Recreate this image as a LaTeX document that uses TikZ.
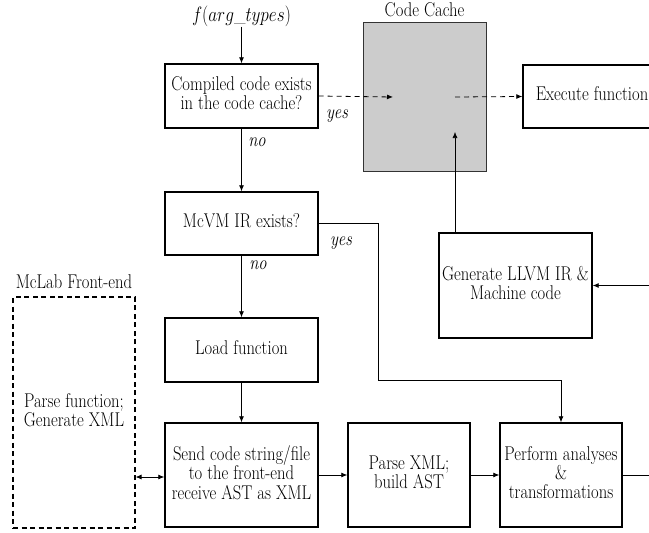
\documentclass[tikz,border=0pt]{standalone}
\usetikzlibrary{arrows.meta,calc}
\newcommand\lbl[1]{\scalebox{1}[1.2]{\renewcommand\arraystretch{0.72}\begin{tabular}{@{}c@{}}#1\end{tabular}}}
\newcommand\itl[1]{\scalebox{1}[1.2]{\itshape #1}}
\begin{document}
\begin{tikzpicture}[x=1pt,y=-1pt,
  font=\fontsize{16.6}{20}\selectfont,
  blk/.style={draw, line width=1.4pt, inner sep=0pt, align=center},
  conn/.style={line width=0.8pt, -{Latex[length=6pt,width=5pt]}},
  plain/.style={line width=0.8pt},
  dashconn/.style={conn, dash pattern=on 5pt off 4pt},
  tag/.style={inner sep=0pt}]
\useasboundingbox (0,0) rectangle (649,533);

% code cache
\node[draw=black!80, line width=0.8pt, fill=black!20, minimum width=123pt, minimum height=149pt, inner sep=0pt] (cache) at (424.5,96.5) {};
\node[tag] (cachetitle) at (424.5,12.5) {\lbl{Code Cache}};
\coordinate (cacheL) at (393,97);
\coordinate (cacheR) at (455,97);
\coordinate (cacheB) at (455,132);

% main column
\node[tag] (entry) at (241.5,16) {\scalebox{1}[1.2]{$f(arg\_types)$}};
\node[blk, minimum width=153pt, minimum height=64pt] (check) at (241.5,96) {\lbl{Compiled code exists\\in the code cache?}};
\node[blk, minimum width=153pt, minimum height=63pt] (mcvm) at (241.5,223.5) {\lbl{McVM IR exists?}};
\node[blk, minimum width=153pt, minimum height=64pt] (load) at (241.5,350) {\lbl{Load function}};
\node[blk, minimum width=153pt, minimum height=104pt] (send) at (241.5,475) {\lbl{Send code string/file\\to the front-end\\receive AST as XML}};
\node[blk, minimum width=122pt, minimum height=104pt] (xml) at (409,475) {\lbl{Parse XML;\\build AST}};
\node[blk, minimum width=122pt, minimum height=104pt] (ana) at (561,475) {\lbl{Perform analyses\\\&\\transformations}};
\node[blk, minimum width=153pt, minimum height=105pt] (gen) at (515.5,285.5) {\lbl{Generate LLVM IR \&\\Machine code}};
\node[blk, minimum width=138pt, minimum height=63pt] (exec) at (592,96.5) {\lbl{Execute function}};

% front-end
\node[draw, line width=1.1pt, dash pattern=on 5pt off 3.5pt, minimum width=122pt, minimum height=231pt, inner sep=0pt, align=center] (front) at (74,412.5) {\lbl{Parse function;\\Generate XML}};
\node[tag] (fronttitle) at (74,284) {\lbl{McLab Front-end}};

% labels
\node[tag] (yes1) at (337,116) {\itl{yes}};
\node[tag] (no1) at (257,142) {\itl{no}};
\node[tag] (yes2) at (341,243) {\itl{yes}};
\node[tag] (no2) at (258,265) {\itl{no}};

% connectors
\draw[conn] (entry) -- (check);
\draw[dashconn] (check.east) -- (cacheL);
\draw[dashconn] (cacheR) -- (exec.west);
\draw[conn] (check) -- (mcvm);
\draw[conn] (mcvm) -- (load);
\draw[conn] (load) -- (send);
\draw[conn] (send) -- (xml);
\draw[conn] (xml) -- (ana);
\draw[conn] (mcvm.east) -- (378,223.5) -- (378,380) -| (ana.north);
\draw[plain, -{Latex[length=6pt,width=5pt]}] (ana.east) -- (660,475) |- (gen.east);
\draw[conn, line width=0.6pt] (gen.north west -| cacheB) -- (cacheB);
\draw[line width=0.8pt, {Latex[length=6pt,width=5pt]}-{Latex[length=6pt,width=5pt]}] (front.east |- 0,477) -- (send.west |- 0,477);
\end{tikzpicture}
\end{document}
